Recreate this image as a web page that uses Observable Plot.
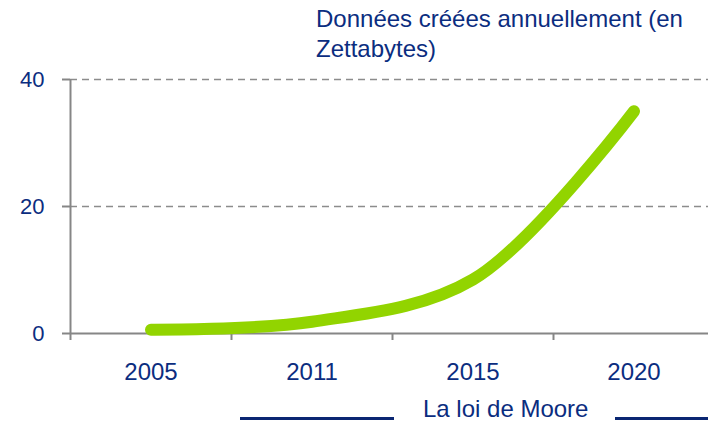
<!DOCTYPE html>
<html>
<head>
<meta charset="utf-8">
<script src="https://cdn.jsdelivr.net/npm/d3@7"></script>
<script src="https://cdn.jsdelivr.net/npm/@observablehq/plot@0.6"></script>
<style>
  html, body { margin: 0; padding: 0; background: #fff; }
  #wrap { position: relative; width: 708px; height: 425px; overflow: hidden;
          font-family: "Liberation Sans", Arial, sans-serif; color: #0b2d7f; }
  #title { position: absolute; left: 316px; top: 4px; font-size: 24px; line-height: 30px; white-space: nowrap; }
  #legend-text { position: absolute; left: 423px; top: 394px; font-size: 24px; line-height: 30px; white-space: nowrap; }
  .legend-line { position: absolute; height: 3px; background: #0a2672; top: 417px; }
  svg { display: block; }
</style>
</head>
<body>
<div id="wrap">
  <div id="chart"></div>
  <div id="title">Données créées annuellement (en<br>Zettabytes)</div>
  <div class="legend-line" style="left:240px; width:154px;"></div>
  <div id="legend-text">La loi de Moore</div>
  <div class="legend-line" style="left:615px; width:93px;"></div>
</div>
<script>
// Data
const years = ["2005", "2011", "2015", "2020"];
const zettabytes = [0.6, 1.85, 8.5, 35];
const yTicks = [0, 20, 40];
const gridValues = [20, 40];

const data = years.map((y, i) => ({year: y, idx: i + 0.5, value: zettabytes[i]}));
const n = years.length;

const navy = "#0b2d7f";
const axisGray = "#868686";

const chart = Plot.plot({
  width: 708,
  height: 425,
  marginTop: 79,
  marginBottom: 92,
  marginLeft: 70,
  marginRight: -6,
  style: {fontFamily: "'Liberation Sans', Arial, sans-serif", background: "transparent"},
  x: {type: "linear", domain: [0, n]},
  y: {domain: [0, 40]},
  marks: [
    Plot.ruleY(gridValues, {stroke: "#8c8c8c", strokeWidth: 1.5, strokeDasharray: "7,5"}),
    Plot.ruleY([0], {stroke: axisGray, strokeWidth: 2}),
    Plot.ruleX([0], {stroke: axisGray, strokeWidth: 2}),
    Plot.axisY({ticks: yTicks, tickSize: 8, tickPadding: 18, fontSize: 22, stroke: axisGray, strokeWidth: 2, fill: navy, label: null, tickFormat: d => String(d)}),
    Plot.axisX({ticks: d3.range(n + 1), tickSize: 7, stroke: axisGray, strokeWidth: 2, tickFormat: () => "", label: null}),
    Plot.axisX({ticks: data.map(d => d.idx), tickSize: 0, tickPadding: 29, fontSize: 24, fill: navy, label: null,
                tickFormat: v => years[Math.round(v - 0.5)]}),
    Plot.line(data, {x: "idx", y: "value", curve: "catmull-rom", stroke: "#92d400", strokeWidth: 12,
                     strokeLinecap: "round", strokeLinejoin: "round"})
  ]
});
document.getElementById("chart").appendChild(chart);
</script>
</body>
</html>
